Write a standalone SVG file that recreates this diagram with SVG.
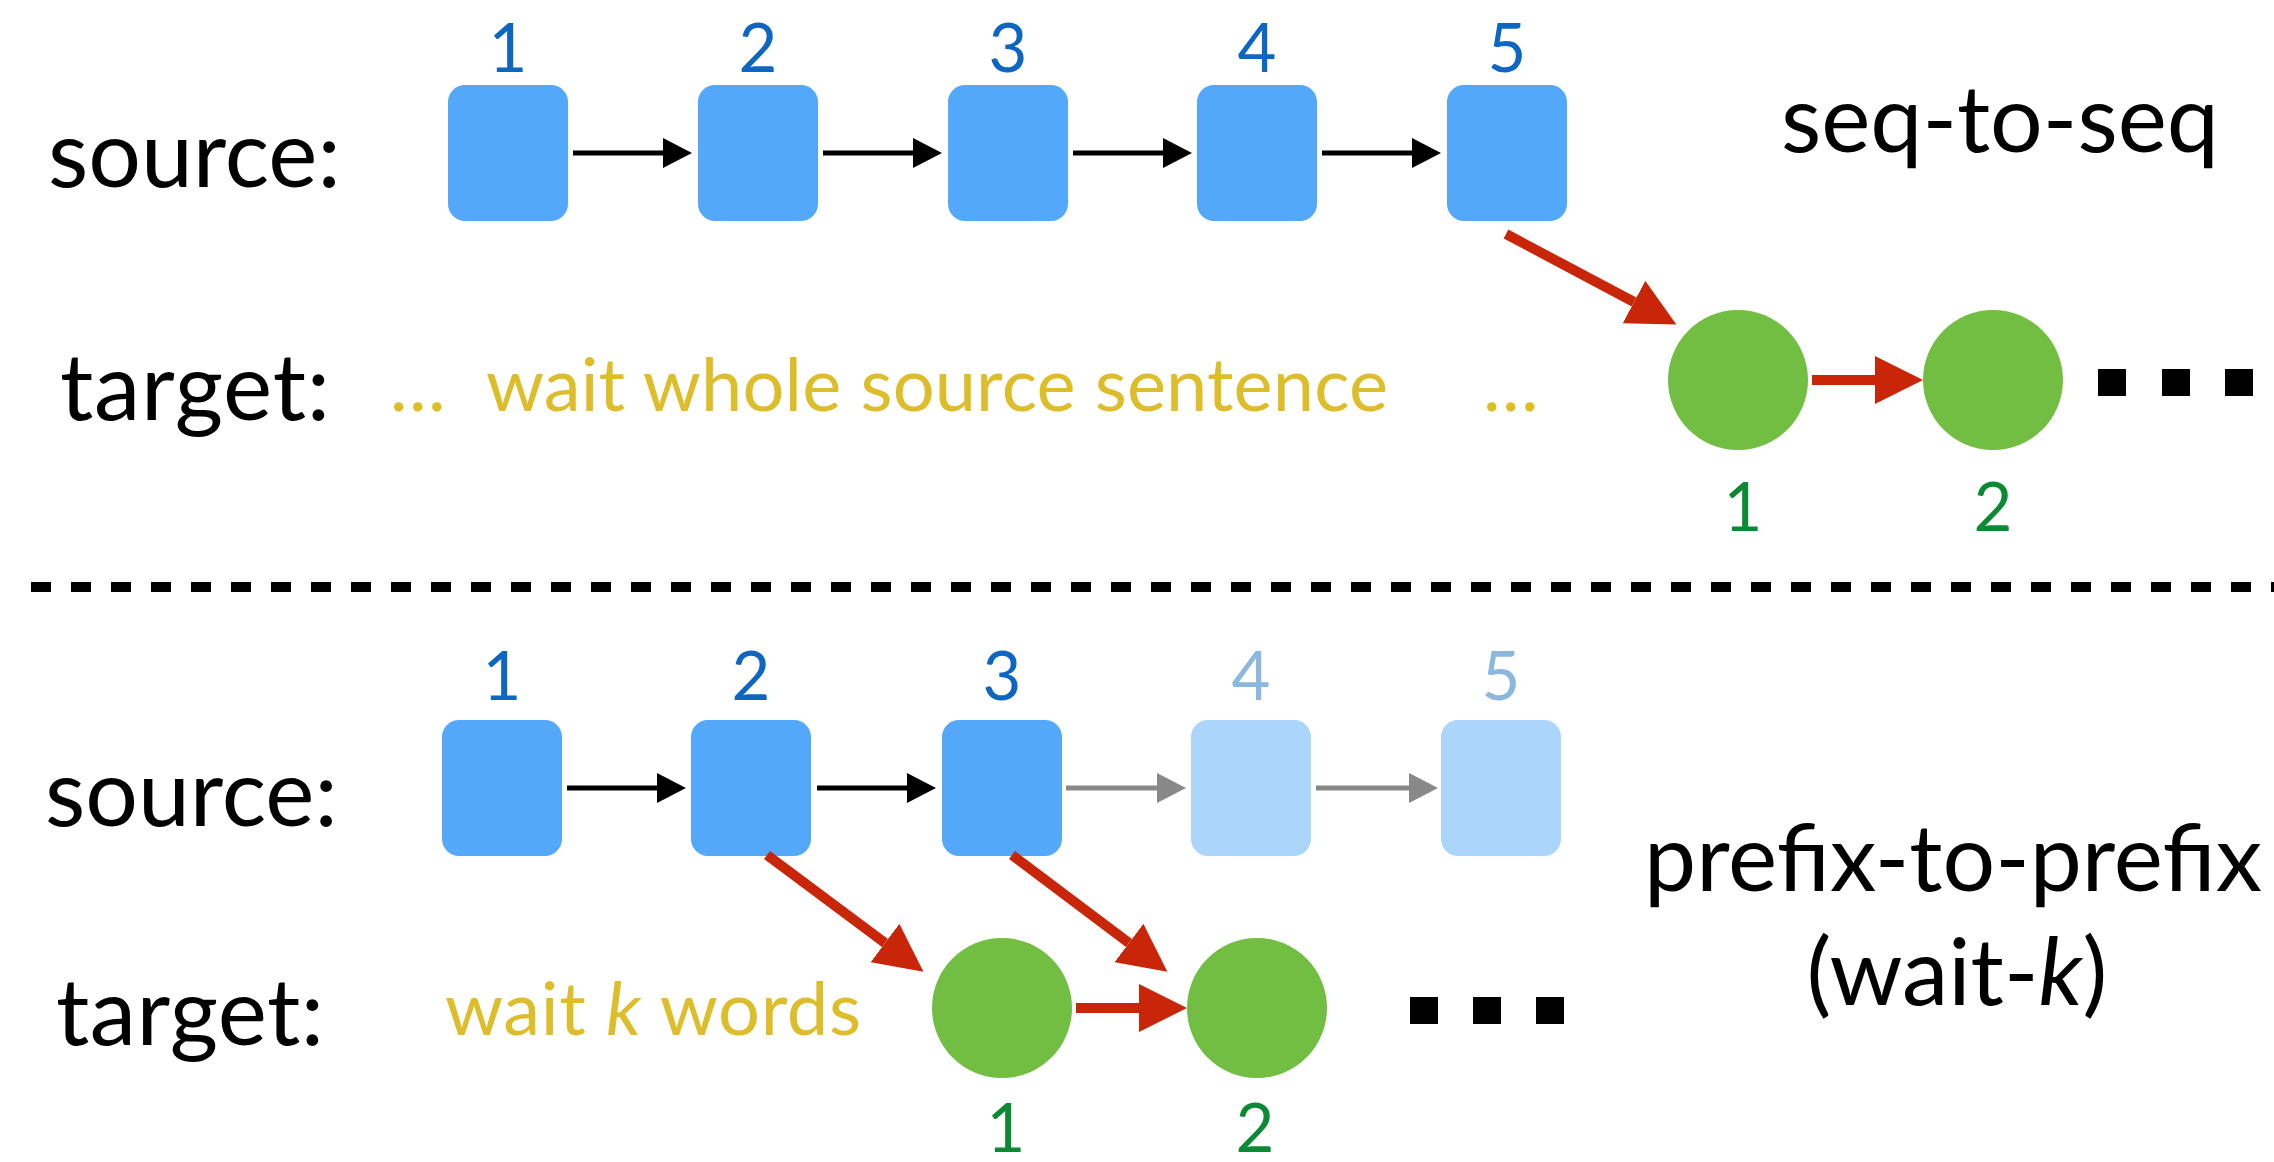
<svg xmlns="http://www.w3.org/2000/svg" width="2274" height="1162" viewBox="0 0 2274 1162">
  <style>
    text { font-family: Lato, "Open Sans", "Liberation Sans", sans-serif; }
    .lbl { font-size: 93px; fill: #000; }
    .num { font-size: 67px; text-anchor: middle; }
    .nb { fill: #0D66C2; }
    .nl { fill: #8CB8E0; }
    .ng { fill: #0B8A33; }
    .yel { font-size: 74px; fill: #DDBD29; }
    .box { fill: #53A8FA; }
    .box-l { fill: #ABD5FB; }
    .tok { fill: #71BE43; }
    .blk { stroke: #000; stroke-width: 5; fill: none; }
    .gry { stroke: #888888; stroke-width: 5; fill: none; }
    .red { stroke: #C92508; stroke-width: 10; fill: none; }
    .sq { fill: #000; }
  </style>
  <defs>
    <marker id="hb" viewBox="0 0 29 30" refX="0" refY="15" markerWidth="29" markerHeight="30" markerUnits="userSpaceOnUse" orient="auto">
      <path d="M0,0 L29,15 L0,30 Z" fill="#000"/>
    </marker>
    <marker id="hg" viewBox="0 0 29 30" refX="0" refY="15" markerWidth="29" markerHeight="30" markerUnits="userSpaceOnUse" orient="auto">
      <path d="M0,0 L29,15 L0,30 Z" fill="#888888"/>
    </marker>
    <marker id="hr" viewBox="0 0 48 48" refX="0" refY="24" markerWidth="48" markerHeight="48" markerUnits="userSpaceOnUse" orient="auto">
      <path d="M0,0 L48,24 L0,48 Z" fill="#C92508"/>
    </marker>
  </defs>

  <!-- row labels -->
  <text class="lbl" x="48" y="187">source:</text>
  <text class="lbl" x="60" y="420" textLength="270">target:</text>
  <text class="lbl" x="45" y="826">source:</text>
  <text class="lbl" x="56" y="1045" textLength="268">target:</text>

  <!-- upper panel: seq-to-seq -->
  <g id="seq-src-1"><rect class="box" x="448" y="85" width="120" height="136" rx="17"/><text class="num nb" x="508" y="72">1</text></g>
  <g id="seq-src-2"><rect class="box" x="698" y="85" width="120" height="136" rx="17"/><text class="num nb" x="758" y="72">2</text></g>
  <g id="seq-src-3"><rect class="box" x="948" y="85" width="120" height="136" rx="17"/><text class="num nb" x="1008" y="72">3</text></g>
  <g id="seq-src-4"><rect class="box" x="1197" y="85" width="120" height="136" rx="17"/><text class="num nb" x="1257" y="72">4</text></g>
  <g id="seq-src-5"><rect class="box" x="1447" y="85" width="120" height="136" rx="17"/><text class="num nb" x="1507" y="72">5</text></g>

  <g id="seq-wait">
    <text class="yel" x="390" y="411">…</text>
    <text class="yel" x="486" y="411" textLength="902">wait whole source sentence</text>
    <text class="yel" x="1483" y="411">…</text>
  </g>

  <g id="seq-tgt-1"><circle class="tok" cx="1738" cy="380" r="70"/><text class="num ng" x="1743" y="531">1</text></g>
  <g id="seq-tgt-2"><circle class="tok" cx="1993" cy="380" r="70"/><text class="num ng" x="1993" y="531">2</text></g>
  <g id="seq-more">
    <rect class="sq" x="2098" y="369" width="28" height="27"/>
    <rect class="sq" x="2162" y="369" width="28" height="27"/>
    <rect class="sq" x="2225" y="369" width="28" height="27"/>
  </g>
  <text id="seq-title" class="lbl" x="1781" y="152">seq-to-seq</text>

  <!-- divider -->
  <line x1="31" y1="587" x2="2274" y2="587" stroke="#000" stroke-width="10" stroke-dasharray="20 20"/>

  <!-- lower panel: prefix-to-prefix -->
  <g id="pre-src-1"><rect class="box" x="442" y="720" width="120" height="136" rx="17"/><text class="num nb" x="502" y="700">1</text></g>
  <g id="pre-src-2"><rect class="box" x="691" y="720" width="120" height="136" rx="17"/><text class="num nb" x="751" y="700">2</text></g>
  <g id="pre-src-3"><rect class="box" x="942" y="720" width="120" height="136" rx="17"/><text class="num nb" x="1002" y="700">3</text></g>
  <g id="pre-src-4"><rect class="box-l" x="1191" y="720" width="120" height="136" rx="17"/><text class="num nl" x="1251" y="700">4</text></g>
  <g id="pre-src-5"><rect class="box-l" x="1441" y="720" width="120" height="136" rx="17"/><text class="num nl" x="1501" y="700">5</text></g>

  <text id="pre-wait" class="yel" x="445" y="1035" textLength="416">wait <tspan font-style="italic">k</tspan> words</text>

  <g id="pre-tgt-1"><circle class="tok" cx="1002" cy="1008" r="70"/><text class="num ng" x="1006" y="1152">1</text></g>
  <g id="pre-tgt-2"><circle class="tok" cx="1257" cy="1008" r="70"/><text class="num ng" x="1255" y="1152">2</text></g>
  <g id="pre-more">
    <rect class="sq" x="1410" y="997" width="28" height="27"/>
    <rect class="sq" x="1473" y="997" width="28" height="27"/>
    <rect class="sq" x="1536" y="997" width="28" height="27"/>
  </g>
  <g id="pre-title">
    <text class="lbl" x="1953" y="891" text-anchor="middle">prefix-to-prefix</text>
    <text class="lbl" x="1957" y="1005" text-anchor="middle">(wait-<tspan font-style="italic">k</tspan>)</text>
  </g>

  <!-- connectors -->
  <g id="connectors">
    <line class="blk" x1="573" y1="153" x2="663" y2="153" marker-end="url(#hb)"/>
    <line class="blk" x1="823" y1="153" x2="913" y2="153" marker-end="url(#hb)"/>
    <line class="blk" x1="1073" y1="153" x2="1163" y2="153" marker-end="url(#hb)"/>
    <line class="blk" x1="1322" y1="153" x2="1412" y2="153" marker-end="url(#hb)"/>
    <line class="red" x1="1506" y1="234" x2="1634" y2="302" marker-end="url(#hr)"/>
    <line class="red" x1="1812" y1="380" x2="1875" y2="380" marker-end="url(#hr)"/>

    <line class="blk" x1="567" y1="788" x2="657" y2="788" marker-end="url(#hb)"/>
    <line class="blk" x1="817" y1="788" x2="907" y2="788" marker-end="url(#hb)"/>
    <line class="gry" x1="1066" y1="788" x2="1157" y2="788" marker-end="url(#hg)"/>
    <line class="gry" x1="1316" y1="788" x2="1409" y2="788" marker-end="url(#hg)"/>
    <line class="red" x1="767" y1="855" x2="885" y2="943" marker-end="url(#hr)"/>
    <line class="red" x1="1012" y1="855" x2="1129" y2="943" marker-end="url(#hr)"/>
    <line class="red" x1="1076" y1="1008" x2="1139" y2="1008" marker-end="url(#hr)"/>
  </g>
</svg>
